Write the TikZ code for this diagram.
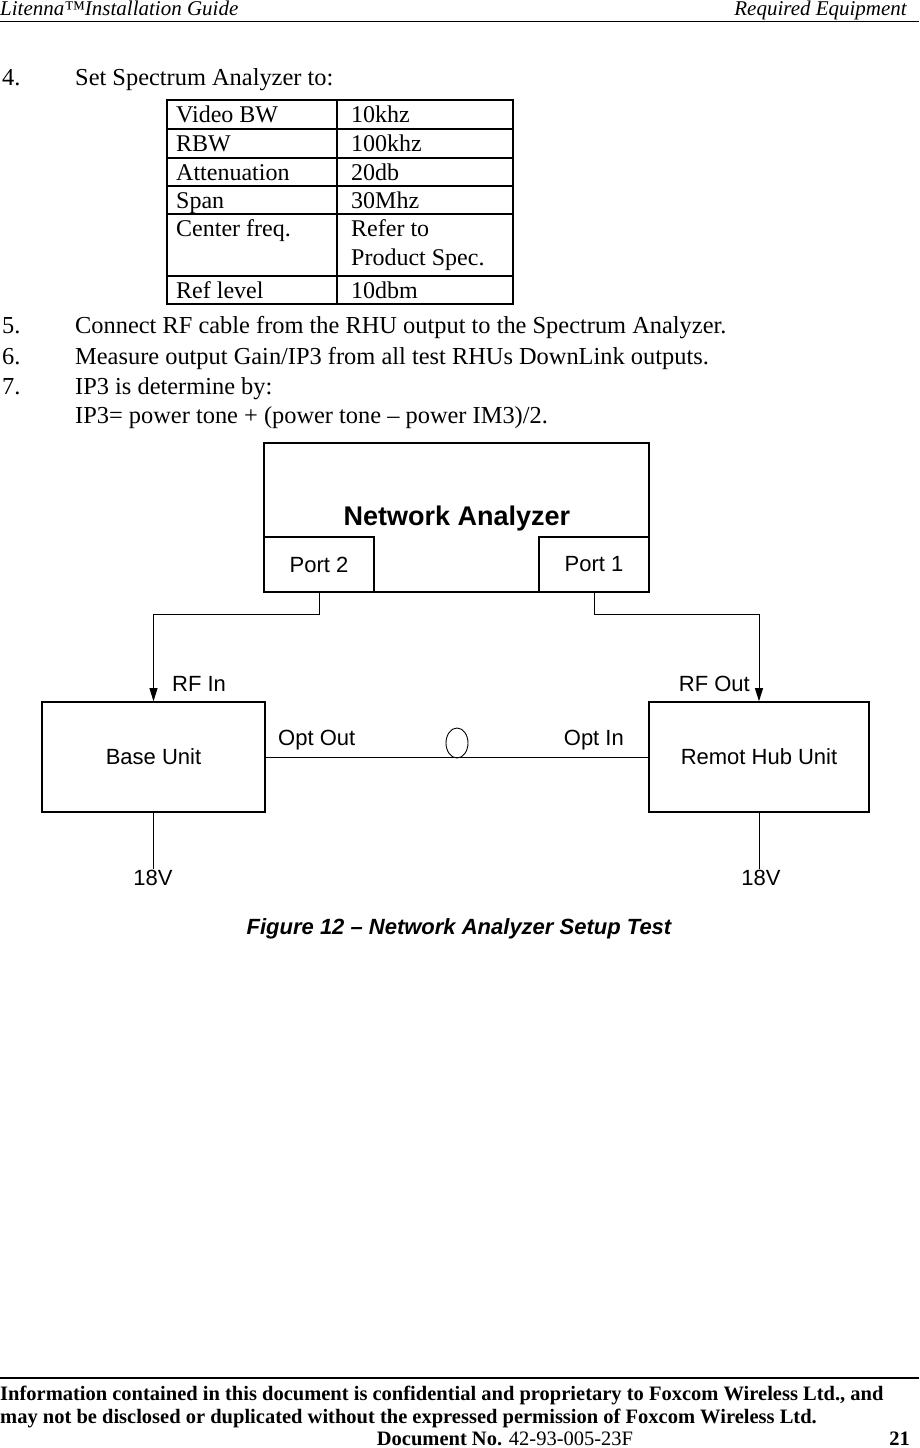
\documentclass[tikz,border=0pt]{standalone}
\usepackage{fontspec}
\setmainfont{Liberation Serif}
\setsansfont{Liberation Sans}
\usetikzlibrary{arrows.meta,shapes.geometric,positioning}

\begin{document}
\begin{tikzpicture}[x=1pt,y=-1pt,
	body/.style  = {anchor=base west, inner sep=0pt, font=\fontsize{24.4}{28}\selectfont},
	cell/.style  = {body, font=\fontsize{24}{28}\selectfont},
	unit/.style  = {draw, rectangle, line width=1.6pt, inner sep=0pt, align=center, font=\sffamily\fontsize{22}{26}\selectfont},
	port/.style  = {unit, minimum width=110pt, minimum height=55pt},
	lbl/.style   = {inner sep=0pt, font=\sffamily\fontsize{22}{26}\selectfont},
	wire/.style  = {line width=0.9pt},
	grid/.style  = {line width=1.6pt},
	head/.style  = {anchor=base west, inner sep=0pt, font=\itshape\fontsize{21}{24}\selectfont},
	foot/.style  = {anchor=base west, inner sep=0pt, font=\bfseries\fontsize{20.5}{24}\selectfont},
	>={Triangle[length=13pt,width=8pt]}]

	\useasboundingbox (0,0) rectangle (919,1448);

	% page header
	\node[head] (headl) at (0,16) {Litenna™Installation Guide};
	\node[head, anchor=base east] (headr) at (907,16) {Required Equipment};
	\draw[line width=1pt] (0,21.5) -- (919,21.5);

	% step 4 and settings table
	\node[body] (n4) at (2,85) {4.};
	\node[body] (t4) at (75,85) {Set Spectrum Analyzer to:};

	\draw[grid] (167,100) rectangle (513,304);
	\foreach \y in {129,158,186,214,276}
	\draw[grid] (167,\y) -- (513,\y);
	\draw[grid] (337,100) -- (337,304);

	\foreach \yb/\key/\val in {122/Video BW/10khz, 151/RBW/100khz, 180/Attenuation/20db, 208/Span/30Mhz, 236/Center freq./Refer to, 298/Ref level/10dbm}
	{
		\node[cell] (key\yb) at (176,\yb) {\key};
		\node[cell] (val\yb) at (351,\yb) {\val};
	}
	\node[cell] (val265) at (351,265) {Product Spec.};

	% steps 5 to 7
	\node[body] (n5) at (2,333) {5.};
	\node[body] (t5) at (75,333) {Connect RF cable from the RHU output to the Spectrum Analyzer.};
	\node[body] (n6) at (2,364) {6.};
	\node[body] (t6) at (75,364) {Measure output Gain/IP3 from all test RHUs DownLink outputs.};
	\node[body] (n7) at (2,394) {7.};
	\node[body] (t7) at (75,394) {IP3 is determine by:};
	\node[body] (t7b) at (75,423) {IP3= power tone + (power tone – power IM3)/2.};

	% setup diagram
	\node[unit, minimum width=385pt, minimum height=149pt] (na) at (456.5,517.5) {};
	\node[lbl, anchor=base, font=\sffamily\bfseries\fontsize{27}{30}\selectfont] (natitle) at (457,525) {Network Analyzer};
	\node[port, anchor=south west] (p2) at (na.south west) {Port 2};
	\node[port, anchor=south east] (p1) at (na.south east) {Port 1};

	\node[unit, minimum width=223pt, minimum height=110pt] (base) at (153.5,757) {Base Unit};
	\node[unit, minimum width=220pt, minimum height=110pt] (rhu) at (759,757) {Remot Hub Unit};

	\draw[wire,->] (p2.south) -- ++(0,22) -| (base.north);
	\draw[wire,->] (p1.south) -- ++(0,22) -| (rhu.north);

	\node[lbl, anchor=base west] (rfin) at (172,691) {RF In};
	\node[lbl, anchor=base east] (rfout) at (750,691) {RF Out};
	\node[lbl, anchor=base west] (optout) at (278,745) {Opt Out};
	\node[lbl, anchor=base east] (optin) at (624,745) {Opt In};

	\draw[wire] (base.east) -- (rhu.west);
	\node[draw, ellipse, wire, minimum width=22pt, minimum height=30pt, inner sep=0pt] (loop) at (457,743) {};

	\node[lbl, anchor=base] (v1) at (153,885) {18V};
	\node[lbl, anchor=base] (v2) at (761,885) {18V};
	\draw[wire] (base.south) -- (base.south |- v1.north);
	\draw[wire] (rhu.south) -- (rhu.south |- v2.north);

	\node[anchor=base, inner sep=0pt, font=\sffamily\bfseries\itshape\fontsize{22}{26}\selectfont] (caption) at (459,934) {Figure 12 – Network Analyzer Setup Test};

	% page footer
	\draw[line width=2.5pt] (0,1378) -- (919,1378);
	\node[foot] (foot1) at (0,1400) {Information contained in this document is confidential and proprietary to Foxcom Wireless Ltd., and};
	\node[foot] (foot2) at (0,1423) {may not be disclosed or duplicated without the expressed permission of Foxcom Wireless Ltd.};
	\node[foot, anchor=base] (docno) at (505,1445) {Document No. {\mdseries 42-93-005-23F}};
	\node[foot, anchor=base east] (pageno) at (910,1445) {21};
\end{tikzpicture}
\end{document}
